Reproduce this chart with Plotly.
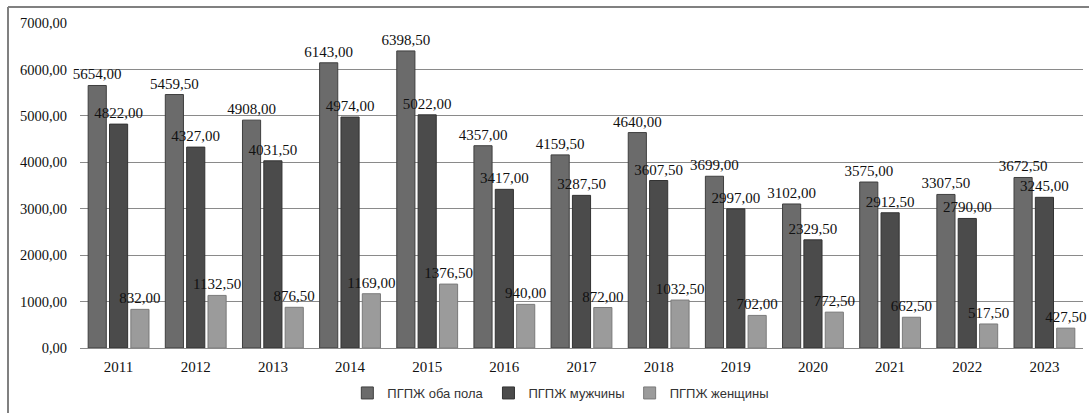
import plotly.graph_objects as go

years = ["2011", "2012", "2013", "2014", "2015", "2016", "2017",
         "2018", "2019", "2020", "2021", "2022", "2023"]
both_sexes = [5654.00, 5459.50, 4908.00, 6143.00, 6398.50, 4357.00, 4159.50,
              4640.00, 3699.00, 3102.00, 3575.00, 3307.50, 3672.50]
men = [4822.00, 4327.00, 4031.50, 4974.00, 5022.00, 3417.00, 3287.50,
       3607.50, 2997.00, 2329.50, 2912.50, 2790.00, 3245.00]
women = [832.00, 1132.50, 876.50, 1169.00, 1376.50, 940.00, 872.00,
         1032.50, 702.00, 772.50, 662.50, 517.50, 427.50]

series = [
    ("ПГПЖ оба пола", both_sexes, "#6b6b6b", "#3f3f3f"),
    ("ПГПЖ мужчины", men, "#4b4b4b", "#333333"),
    ("ПГПЖ женщины", women, "#9b9b9b", "#7a7a7a"),
]


def fmt(v):
    return f"{v:.2f}".replace(".", ",")


fig = go.Figure()
for name, vals, fill, edge in series:
    fig.add_trace(go.Bar(
        x=years, y=vals, name=name,
        marker=dict(color=fill, line=dict(color=edge, width=1)),
        text=[fmt(v) for v in vals],
        textposition="outside",
        constraintext="none",
        cliponaxis=False,
        textfont=dict(family="Liberation Serif", size=15, color="#111111"),
    ))

W, H = 1089, 413
ml, mr, mt, mb = 80, 6, 23, 65
pw, ph = W - ml - mr, H - mt - mb
fx = (8 - ml) / pw
fy = (H - mb - 7) / ph

fig.update_layout(
    width=W, height=H,
    margin=dict(l=ml, r=mr, t=mt, b=mb, autoexpand=False),
    paper_bgcolor="white", plot_bgcolor="white",
    barmode="group", bargap=0.17, bargroupgap=0.15,
    separators=", ",
    showlegend=True,
    legend=dict(orientation="h", xref="container", yref="container",
                x=0.515, xanchor="center", y=1 - 393 / H, yanchor="middle",
                font=dict(family="Liberation Sans", size=13, color="#333333"),
                itemwidth=30, traceorder="normal"),
    xaxis=dict(showgrid=False, showline=False, ticks="", ticklabelstandoff=8,
               tickfont=dict(family="Liberation Serif", size=15, color="#111111")),
    yaxis=dict(range=[0, 7000], dtick=1000, tickformat=".2f",
               showgrid=True, gridcolor="#8a8a8a", gridwidth=1,
               zeroline=True, zerolinecolor="#8a8a8a", zerolinewidth=1,
               showline=False, ticks="", ticklabelstandoff=12,
               tickfont=dict(family="Liberation Serif", size=14.5, color="#111111")),
    shapes=[
        dict(type="line", xref="paper", yref="paper", x0=fx, x1=fx,
             y0=fy, y1=-0.3, line=dict(color="#808080", width=2)),
        dict(type="line", xref="paper", yref="paper", x0=fx, x1=1.1,
             y0=fy, y1=fy, line=dict(color="#808080", width=2)),
    ],
)

fig.write_html("out.html")
